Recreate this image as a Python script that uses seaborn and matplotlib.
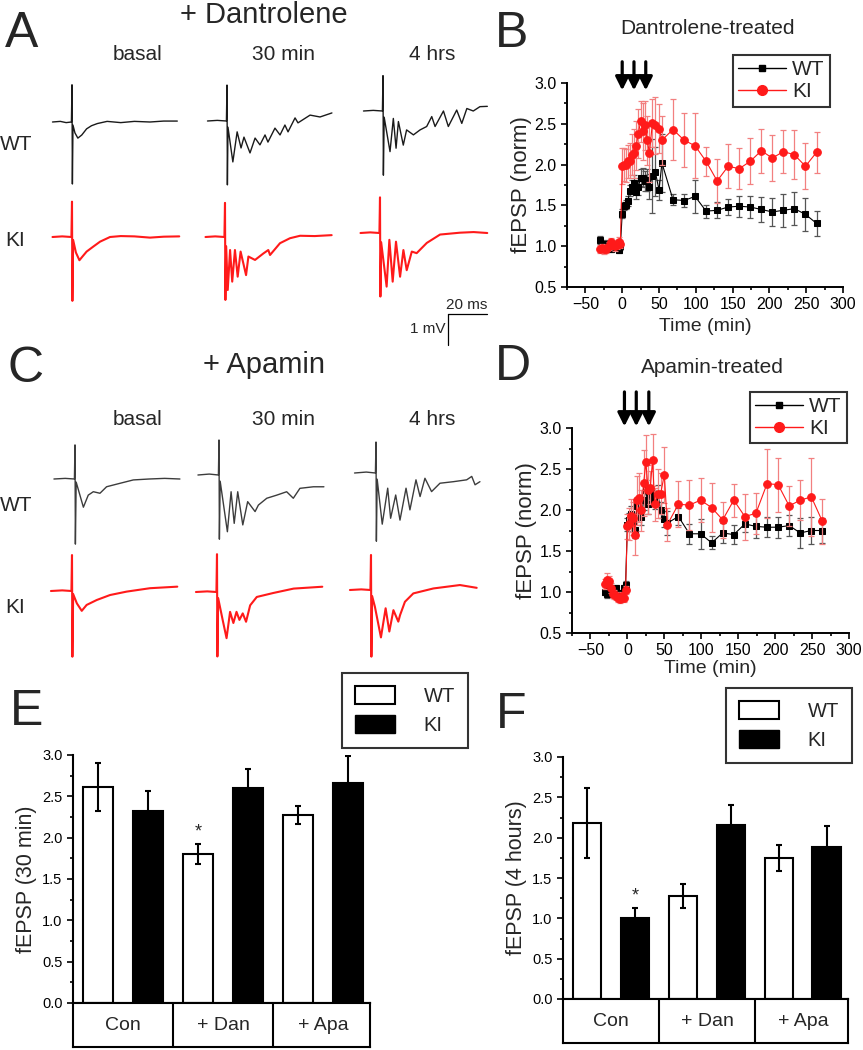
import matplotlib
matplotlib.use("Agg")
import numpy as np
import pandas as pd
import matplotlib.pyplot as plt
from matplotlib.patches import Patch
from matplotlib.lines import Line2D
from matplotlib.ticker import MultipleLocator
import seaborn as sns

sns.set_theme(style="ticks")
plt.rcParams['font.family'] = ['Liberation Sans', 'DejaVu Sans']

# ---------------- data ----------------
# example fEPSP traces (ms after stimulus, mV from baseline)
dan_wt_basal_t = [-10, -6, -3, -0.3, 0, 0.2, 0.5, 1.5, 3, 5, 7.5, 10, 13, 18, 25, 32, 40, 47, 54]
dan_wt_basal_v = [0, 0.02, -0.02, 0, 1.2, -2.0, -0.1, -0.35, -0.52, -0.42, -0.22, -0.12, -0.05, 0.02, -0.02, 0.02, 0, 0.03, 0.03]
dan_wt_30_t = [-10, -5, -0.3, 0, 0.2, 0.5, 3, 5.2, 7.2, 8.7, 11.8, 14.4, 16.9, 19.5, 21, 24.6, 27.2, 29.7, 31.3, 34.9, 36.4, 42.6, 47.7, 53.8]
dan_wt_30_v = [0, 0.02, 0, 1.16, -2.06, -0.2, -1.32, -0.35, -0.87, -0.52, -1.03, -0.55, -0.77, -0.45, -0.68, -0.23, -0.45, -0.13, -0.35, 0.1, -0.06, 0.19, 0.13, 0.26]
dan_wt_4h_t = [-10, -5, -0.3, 0, 0.2, 0.6, 3.6, 5.3, 6.7, 7.9, 10.4, 12.1, 15.6, 19, 22.4, 25, 26.7, 31, 33.5, 37.8, 40.4, 43, 46.3, 49.7, 53.5]
dan_wt_4h_v = [0, 0.02, 0, 1.14, -2.07, -0.2, -1.31, -0.24, -1.2, -0.34, -1.1, -0.61, -0.77, -0.61, -0.5, -0.18, -0.5, 0, -0.5, 0.03, -0.4, 0.08, 0, 0.14, 0.15]
dan_ki_basal_t = [-10, -5, -0.3, 0, 0.2, 0.6, 2, 3.8, 5.5, 7.5, 10.9, 14.4, 19.5, 25, 32, 40, 47, 55]
dan_ki_basal_v = [0, 0.02, 0, 1.14, -2.06, -0.1, -0.5, -0.75, -0.62, -0.47, -0.31, -0.15, 0, 0.03, 0.02, -0.02, 0.01, 0.02]
dan_ki_30_t = [-10, -5, -0.3, 0, 0.2, 0.6, 1.4, 2.6, 3.7, 5.1, 6.5, 8, 10.8, 12, 15.4, 19.7, 22.2, 23.1, 28.2, 33.3, 38.5, 46, 54.7]
dan_ki_30_v = [0, 0.02, 0, 1.1, -2.03, -0.3, -1.71, -0.42, -1.44, -0.42, -1.28, -0.47, -1.23, -0.63, -0.74, -0.53, -0.42, -0.58, -0.2, -0.04, 0.04, 0.03, 0.06]
dan_ki_4h_t = [-10, -5, -0.3, 0, 0.2, 0.6, 3.4, 4.8, 6.5, 8.2, 10.3, 12, 13.7, 16.3, 18.8, 24, 30.8, 41, 48, 55]
dan_ki_4h_v = [0, 0.02, 0, 1.15, -2.05, -0.3, -1.73, -0.22, -1.57, -0.28, -1.41, -0.55, -1.2, -0.6, -0.65, -0.32, -0.05, 0.01, 0.03, 0.0]

apa_wt_basal_t = [-10.8, -5, -0.3, 0, 0.2, 0.6, 4.3, 6.8, 9.4, 12.8, 16.2, 23, 29.9, 38, 46, 53.8]
apa_wt_basal_v = [0, 0.02, 0, 1.1, -2.1, -0.1, -0.91, -0.52, -0.41, -0.46, -0.25, -0.14, -0.03, 0.0, 0.02, 0]
apa_wt_30_t = [-10.8, -5, -0.3, 0, 0.2, 0.6, 4.3, 6.2, 7.8, 9.6, 12.2, 14.7, 18.5, 20.2, 24.5, 29.6, 34.7, 38.1, 41.5, 48.4, 53.8]
apa_wt_30_v = [0, 0.03, 0, 1.13, -2.07, -0.2, -1.83, -0.54, -1.56, -0.54, -1.61, -0.86, -1.18, -0.97, -0.75, -0.65, -0.54, -0.75, -0.43, -0.38, -0.38]
apa_wt_4h_t = [-11, -5, -0.3, 0, 0.2, 0.6, 3.2, 6, 7.5, 10.1, 12.3, 15.4, 17.4, 20.5, 22.6, 25.1, 28.5, 32.8, 39.7, 46.5, 49.1, 50.8, 53.3]
apa_wt_4h_v = [0, 0.03, 0, 1.0, -2.2, -0.2, -1.65, -0.49, -1.46, -0.71, -1.52, -0.49, -1.19, -0.22, -0.76, -0.17, -0.6, -0.33, -0.28, -0.22, -0.11, -0.38, -0.28]
apa_ki_basal_t = [-10.8, -5, -0.3, 0, 0.2, 0.6, 2.5, 5, 7.5, 12.7, 19.5, 28, 40, 54]
apa_ki_basal_v = [0, 0.02, 0, 1.16, -2.12, -0.1, -0.4, -0.64, -0.45, -0.29, -0.13, -0.02, 0.09, 0.14]
apa_ki_30_t = [-10.8, -5, -0.3, 0, 0.2, 0.6, 2.9, 4.9, 6.7, 8.4, 10, 11.5, 13.2, 14.9, 17, 20.4, 29, 39.3, 54]
apa_ki_30_v = [0, 0.02, 0, 1.22, -2.08, -0.2, -0.9, -1.49, -0.64, -1.0, -0.64, -0.9, -0.69, -0.96, -0.43, -0.16, -0.03, 0.11, 0.17]
apa_ki_4h_t = [-10.8, -5, -0.3, 0, 0.2, 0.6, 2, 5.1, 7.5, 9.4, 11.5, 14, 14.9, 17.4, 21.7, 32, 45.6, 54.2]
apa_ki_4h_v = [0, 0.02, 0, 1.13, -2.15, -0.2, -0.54, -1.53, -0.59, -1.34, -0.65, -1.02, -0.81, -0.38, -0.11, 0.05, 0.16, 0.07]

# time course (min), normalized fEPSP +- sem
minutes = [-30, -27.5, -25, -22.5, -20, -17.5, -15, -12.5, -10, -7.5, -5, -2.5,
           0, 2, 5, 8, 10, 13, 16, 19, 22, 25, 28, 31, 34, 37, 41, 45, 50, 54,
           69, 84, 99, 114, 129, 144, 159, 174, 189, 204, 219, 234, 249, 264]
tetanus_dan = [0, 16, 32]
tetanus_apa = [-4, 12, 29]

wt_dan = [1.08, 1.02, 1.00, 1.03, 0.98, 1.00, 0.97, 1.00, 1.01, 0.98, 0.95, 1.00,
          1.40, 1.49, 1.51, 1.55, 1.68, 1.73, 1.77, 1.67, 1.73, 1.84, 1.84, 1.80, 1.81, 1.73, 1.86, 1.91, 1.69, 2.02,
          1.57, 1.56, 1.61, 1.43, 1.44, 1.48, 1.49, 1.48, 1.45, 1.42, 1.44, 1.46, 1.39, 1.28]
wt_dan_sem = [0.05, 0.04, 0.04, 0.05, 0.04, 0.04, 0.04, 0.04, 0.04, 0.04, 0.03, 0.05,
              0.05, 0.05, 0.06, 0.06, 0.07, 0.08, 0.10, 0.09, 0.10, 0.10, 0.12, 0.12, 0.13, 0.15, 0.45, 0.30, 0.12, 0.35,
              0.07, 0.08, 0.20, 0.08, 0.10, 0.10, 0.13, 0.14, 0.15, 0.17, 0.20, 0.20, 0.20, 0.15]
ki_dan = [0.97, 0.98, 0.96, 0.97, 0.98, 1.00, 1.05, 1.02, 1.00, 1.02, 1.05, 1.03,
          1.98, 2.00, 1.99, 2.04, 2.05, 2.12, 2.14, 2.23, 2.38, 2.53, 2.41, 2.48, 2.30, 2.14, 2.51, 2.48, 2.44, 2.30,
          2.43, 2.30, 2.23, 2.04, 1.80, 1.98, 1.95, 2.04, 2.17, 2.08, 2.16, 2.12, 1.98, 2.15]
ki_dan_sem = [0.05, 0.05, 0.05, 0.05, 0.04, 0.05, 0.05, 0.05, 0.06, 0.05, 0.06, 0.05,
              0.22, 0.20, 0.20, 0.20, 0.22, 0.25, 0.30, 0.30, 0.30, 0.25, 0.35, 0.30, 0.30, 0.35, 0.30, 0.35, 0.30, 0.30,
              0.37, 0.33, 0.40, 0.18, 0.27, 0.27, 0.25, 0.28, 0.27, 0.28, 0.26, 0.30, 0.28, 0.25]

wt_apa = [1.00, 0.97, 1.03, 1.00, 0.98, 1.03, 1.05, 0.95, 0.97, 0.99, 1.05, 1.09,
          1.82, 1.88, 1.95, 1.85, 1.76, 2.05, 1.98, 1.92, 2.12, 2.25, 2.07, 2.20, 2.15, 2.11, 2.20, 2.00, 1.89, 1.84,
          1.92, 1.71, 1.71, 1.60, 1.72, 1.70, 1.83, 1.80, 1.79, 1.79, 1.81, 1.72, 1.75, 1.75]
wt_apa_sem = [0.04, 0.04, 0.04, 0.04, 0.04, 0.04, 0.04, 0.04, 0.04, 0.04, 0.04, 0.04,
              0.08, 0.08, 0.10, 0.10, 0.10, 0.10, 0.10, 0.10, 0.12, 0.12, 0.12, 0.10, 0.10, 0.10, 0.10, 0.10, 0.10, 0.15,
              0.10, 0.12, 0.18, 0.08, 0.12, 0.12, 0.10, 0.14, 0.12, 0.13, 0.13, 0.18, 0.16, 0.15]
ki_apa = [1.10, 1.15, 1.14, 1.05, 0.98, 0.97, 0.95, 0.93, 0.92, 0.95, 0.93, 1.02,
          1.80, 1.83, 1.93, 1.90, 1.70, 2.12, 2.15, 2.00, 2.33, 2.58, 2.25, 2.27, 2.61, 2.07, 2.20, 2.20, 2.43, 1.82,
          2.07, 2.06, 2.12, 2.03, 1.88, 2.12, 1.92, 1.96, 2.32, 2.31, 2.05, 2.12, 2.16, 1.86]
ki_apa_sem = [0.06, 0.08, 0.06, 0.06, 0.05, 0.05, 0.05, 0.05, 0.05, 0.05, 0.05, 0.05,
              0.15, 0.20, 0.20, 0.20, 0.25, 0.30, 0.30, 0.25, 0.40, 0.33, 0.30, 0.20, 0.32, 0.20, 0.30, 0.25, 0.34, 0.20,
              0.28, 0.30, 0.27, 0.30, 0.22, 0.20, 0.28, 0.25, 0.42, 0.33, 0.24, 0.24, 0.48, 0.28]

# bar summaries
conditions = ['Con', '+ Dan', '+ Apa']
wt_30min = [2.61, 1.80, 2.27]
wt_30min_sem = [0.29, 0.12, 0.11]
ki_30min = [2.32, 2.60, 2.66]
ki_30min_sem = [0.24, 0.23, 0.33]
wt_4h = [2.18, 1.28, 1.75]
wt_4h_sem = [0.43, 0.15, 0.16]
ki_4h = [1.01, 2.16, 1.88]
ki_4h_sem = [0.12, 0.24, 0.27]

# ---------------- layout ----------------
W, H = 863, 1050
fig = plt.figure(figsize=(W / 100, H / 100), dpi=100)


def box(left, top, right, bottom):
    return [left / W, 1 - bottom / H, (right - left) / W, (bottom - top) / H]


def ftext(x, y, s, **kw):
    fig.text(x / W, 1 - y / H, s, **kw)


RED = '#ff1a1a'
MS_PX, MV_PX = 1.95, 31.0
T0, T1, V0, V1 = -12, 58, -4.0, 1.5


def trace(sx, sy, t, v, color, lw):
    ax = fig.add_axes(box(sx + T0 * MS_PX, sy - V1 * MV_PX, sx + T1 * MS_PX, sy - V0 * MV_PX))
    sns.lineplot(x=t, y=v, sort=False, estimator=None, color=color, linewidth=lw, ax=ax)
    ax.set_xlim(T0, T1)
    ax.set_ylim(V0, V1)
    ax.axis('off')
    return ax


# panel A traces
trace(72, 122, dan_wt_basal_t, dan_wt_basal_v, '#1a1a1a', 1.0)
trace(227, 121, dan_wt_30_t, dan_wt_30_v, '#1a1a1a', 1.0)
trace(383, 111, dan_wt_4h_t, dan_wt_4h_v, '#1a1a1a', 1.0)
trace(72, 237, dan_ki_basal_t, dan_ki_basal_v, RED, 1.5)
trace(225, 237, dan_ki_30_t, dan_ki_30_v, RED, 1.5)
sb = trace(380, 233, dan_ki_4h_t, dan_ki_4h_v, RED, 1.5)
# scale bar 20 ms / 1 mV
sb.plot([34.9, 34.9 + 20], [-2.61, -2.61], color='black', lw=0.9)
sb.plot([34.9, 34.9], [-2.61, -3.61], color='black', lw=0.9)
sb.text(44.6, -2.55, '20 ms', ha='center', va='bottom', fontsize=11)
sb.text(33.5, -3.1, '1 mV', ha='right', va='center', fontsize=11)

# panel C traces
trace(75, 479, apa_wt_basal_t, apa_wt_basal_v, '#3c3c3c', 1.0)
trace(219, 475, apa_wt_30_t, apa_wt_30_v, '#3c3c3c', 1.0)
trace(376, 473, apa_wt_4h_t, apa_wt_4h_v, '#3c3c3c', 1.0)
trace(72, 591, apa_ki_basal_t, apa_ki_basal_v, RED, 1.5)
trace(217, 592, apa_ki_30_t, apa_ki_30_v, RED, 1.5)
trace(371, 590, apa_ki_4h_t, apa_ki_4h_v, RED, 1.5)

for top, title in [(23, '+ Dantrolene'), (373, '+ Apamin')]:
    ftext(264, top, title, ha='center', va='baseline', fontsize=21)
for base, (wy, ky) in [(60, (150, 246)), (425, (511, 613))]:
    for cx, lab in zip([138, 283, 432], ['basal', '30 min', '4 hrs']):
        ftext(cx, base, lab, ha='center', va='baseline', fontsize=15)
    ftext(16, wy, 'WT', ha='center', va='baseline', fontsize=15)
    ftext(15, ky, 'KI', ha='center', va='baseline', fontsize=15)

for x, y, s in [(5, 47, 'A'), (495, 47, 'B'), (7, 382, 'C'), (495, 380, 'D'), (10, 725, 'E'), (496, 728, 'F')]:
    ftext(x, y, s, ha='left', va='baseline', fontsize=36)


# ---------------- time courses ----------------
def timecourse(rect, wt, wt_e, ki, ki_e, tet, arrow_y, leg_anchor, title, title_pos, xpad):
    ax = fig.add_axes(box(*rect))
    ax.errorbar(minutes, wt, yerr=wt_e, fmt='none', ecolor='#555555', elinewidth=0.9, capsize=2, capthick=0.9, zorder=2)
    sns.lineplot(x=minutes, y=wt, estimator=None, color='black', marker='s', markersize=4.5,
                 markeredgecolor='black', linewidth=0.8, ax=ax, zorder=3)
    ax.errorbar(minutes, ki, yerr=ki_e, fmt='none', ecolor='#f28080', elinewidth=0.9, capsize=2, capthick=0.9, zorder=4)
    sns.lineplot(x=minutes, y=ki, estimator=None, color=RED, marker='o', markersize=5.5,
                 markeredgecolor=RED, linewidth=0.8, ax=ax, zorder=5)
    ax.set_xlim(-75, 300)
    ax.set_ylim(0.5, 3.0)
    ax.xaxis.set_major_locator(MultipleLocator(50))
    ax.xaxis.set_minor_locator(MultipleLocator(25))
    ax.yaxis.set_major_locator(MultipleLocator(0.5))
    ax.yaxis.set_minor_locator(MultipleLocator(0.25))
    ax.yaxis.set_major_formatter('{x:.1f}')
    sns.despine(ax=ax)
    for s in ['left', 'bottom']:
        ax.spines[s].set_linewidth(1.4)
        ax.spines[s].set_color('black')
    ax.tick_params(which='both', direction='out', width=1.2, colors='black', labelsize=11.5)
    ax.tick_params(which='major', length=4)
    ax.tick_params(which='minor', length=2.5)
    ax.set_xlabel('Time (min)', fontsize=14, labelpad=xpad)
    ax.set_ylabel('fEPSP (norm)', fontsize=16, labelpad=2)
    for t in tet:
        ax.annotate('', xy=(t, arrow_y[1]), xytext=(t, arrow_y[0]), annotation_clip=False,
                    arrowprops=dict(arrowstyle='-|>', color='black', lw=2.3, mutation_scale=20,
                                    shrinkA=0, shrinkB=0))
    handles = [Line2D([], [], color='black', marker='s', markersize=5, lw=1),
               Line2D([], [], color=RED, marker='o', markersize=7, lw=1)]
    leg = ax.legend(handles, ['WT', 'KI'], loc='upper right', bbox_to_anchor=leg_anchor, frameon=True,
                    fancybox=False, edgecolor='black', fontsize=15, handlelength=2.3, handletextpad=0.3,
                    borderpad=0.25, labelspacing=0.15, borderaxespad=0)
    leg.get_frame().set_linewidth(1.5)
    ftext(title_pos[0], title_pos[1], title, ha='center', va='baseline', fontsize=15)
    return ax


timecourse((567, 83, 843, 287), wt_dan, wt_dan_sem, ki_dan, ki_dan_sem, tetanus_dan, (3.26, 2.91),
           (0.953, 1.137), 'Dantrolene-treated', (707, 34), 4)
timecourse((572, 428, 849, 633), wt_apa, wt_apa_sem, ki_apa, ki_apa_sem, tetanus_apa, (3.44, 3.02),
           (0.993, 1.176), 'Apamin-treated', (712, 373), 1)


# ---------------- bar charts ----------------
def bars(rect, tab_bottom, wt, wt_e, ki, ki_e, ylabel, star, leg_anchor):
    left, top, right, bottom = rect
    ax = fig.add_axes(box(*rect))
    df = pd.DataFrame({'cond': conditions * 2, 'geno': ['WT'] * 3 + ['KI'] * 3, 'val': wt + ki})
    sns.barplot(data=df, x='cond', y='val', hue='geno', palette={'WT': 'white', 'KI': 'black'},
                edgecolor='black', linewidth=1.5, width=1.0, gap=0.4, saturation=1,
                errorbar=None, legend=False, ax=ax)
    for cont, err in zip(ax.containers, [wt_e, ki_e]):
        for bar, e in zip(cont, err):
            ax.errorbar(bar.get_x() + bar.get_width() / 2, bar.get_height(), yerr=e, fmt='none',
                        ecolor='black', elinewidth=1.5, capsize=2.5, capthick=1.5, zorder=5)
    sx_cont, sx_i = star
    b = ax.containers[sx_cont][sx_i]
    err = [wt_e, ki_e][sx_cont][sx_i]
    ax.text(b.get_x() + b.get_width() / 2, b.get_height() + err + 0.04, '*',
            ha='center', va='bottom', fontsize=13)
    ax.set_xlim(-0.5, 2.47)
    ax.set_ylim(0, 3.0)
    ax.yaxis.set_major_locator(MultipleLocator(0.5))
    ax.yaxis.set_minor_locator(MultipleLocator(0.25))
    ax.yaxis.set_major_formatter('{x:.1f}')
    ax.set_xticks([])
    ax.set_xlabel('')
    ax.set_ylabel(ylabel, fontsize=15.5, labelpad=4)
    sns.despine(ax=ax)
    for s in ['left', 'bottom']:
        ax.spines[s].set_linewidth(1.5)
        ax.spines[s].set_color('black')
    ax.tick_params(axis='y', which='both', direction='out', width=1.2, colors='black', labelsize=10.5)
    ax.tick_params(axis='y', which='major', length=4)
    ax.tick_params(axis='y', which='minor', length=2.5)
    handles = [Patch(facecolor='white', edgecolor='black', lw=1.5), Patch(facecolor='black', edgecolor='black')]
    leg = ax.legend(handles, ['WT', 'KI'], loc='upper right', bbox_to_anchor=leg_anchor, frameon=True,
                    fancybox=False, edgecolor='black', fontsize=14.5, handlelength=2.0, handleheight=1.0,
                    handletextpad=1.4, borderpad=0.65, labelspacing=0.45, borderaxespad=0)
    leg.get_frame().set_linewidth(1.5)

    tab = fig.add_axes(box(left, bottom, right, tab_bottom))
    tab.set_xlim(ax.get_xlim())
    tab.set_ylim(0, 1)
    for i, c in enumerate(conditions):
        tab.text(i, 0.5, c, ha='center', va='center', fontsize=14)
    for i in range(len(conditions) - 1):
        tab.axvline(i + 0.5, color='black', lw=1.5)
    tab.set_xticks([])
    tab.set_yticks([])
    for s in tab.spines.values():
        s.set_linewidth(1.5)
        s.set_color('black')
    return ax


bars((73, 755, 370, 1003), 1047, wt_30min, wt_30min_sem, ki_30min, ki_30min_sem,
     'fEPSP (30 min)', (0, 1), (1.33, 1.331))
bars((563, 757, 848, 999), 1043, wt_4h, wt_4h_sem, ki_4h, ki_4h_sem,
     'fEPSP (4 hours)', (1, 0), (1.014, 1.285))

fig.savefig('out.png', dpi=100)
